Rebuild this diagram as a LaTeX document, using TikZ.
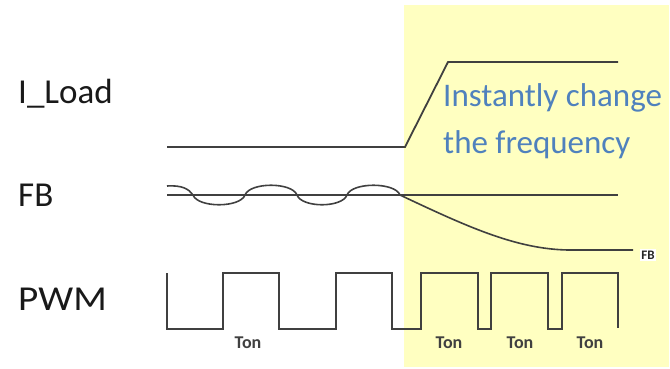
\documentclass[tikz,border=0pt]{standalone}
\usepackage{fontspec}
\setmainfont{Carlito}
\definecolor{hilite}{HTML}{FFFFC1}
\definecolor{note}{HTML}{4F81BD}
\definecolor{wave}{HTML}{404040}
\begin{document}
\begin{tikzpicture}[x=1pt,y=-1pt,
  sig/.style={draw=wave,line width=1.8pt,line join=miter},
  lbl/.style={anchor=base west,inner sep=0pt,font=\fontsize{35}{40}\selectfont,text=black!90},
  tonlbl/.style={anchor=base,inner sep=0pt,font=\fontsize{18}{20}\selectfont\bfseries,text=black!75},
  notetext/.style={anchor=base west,inner sep=0pt,font=\fontsize{33}{40}\selectfont,text=note}]
\useasboundingbox (0,0) rectangle (670,368);
\fill[hilite] (404,5) rectangle (669,367);
% labels
\node[lbl] (lload) at (18,103) {I\_Load};
\node[lbl] (lfb) at (18,206) {FB};
\node[lbl,xscale=1.12,anchor=base west] (lpwm) at (18,310) {PWM};
\node[notetext] (note1) at (443,106) {Instantly change};
\node[notetext] (note2) at (443,153) {the frequency};
% I_Load
\draw[sig] (167,147) -- (405,147) -- (448,62) -- (618,62);
% FB reference line
\draw[sig] (167,195) -- (618,195);
% FB ripple and drop
\draw[sig,line width=1.6pt] (167,186) .. controls (182,185) and (189,189) .. (193,195)
  .. controls (198,208) and (240,208) .. (245,195)
  .. controls (250,182) and (292,182) .. (297,195)
  .. controls (302,208) and (342,208) .. (347,195)
  .. controls (352,182) and (395,182) .. (400,195)
  .. controls (470,228) and (520,251) .. (575,250) -- (633,250);
\node[fill=white,inner sep=1.5pt,font=\fontsize{13}{15}\selectfont\bfseries,text=black!85] (fbsmall) at (648,255) {FB};
% PWM
\draw[sig] (167,273) -- (167,329) -- (223,329) -- (223,273) -- (279,273) -- (279,329)
  -- (336,329) -- (336,273) -- (392,273) -- (392,329) -- (421,329) -- (421,273)
  -- (478,273) -- (478,329) -- (491,329) -- (491,273) -- (548,273) -- (548,329)
  -- (562,329) -- (562,273) -- (618,273) -- (618,328);
\node[tonlbl] (ton1) at (248,348) {Ton};
\node[tonlbl] (ton2) at (449,348) {Ton};
\node[tonlbl] (ton3) at (520,348) {Ton};
\node[tonlbl] (ton4) at (590,348) {Ton};
\end{tikzpicture}
\end{document}
